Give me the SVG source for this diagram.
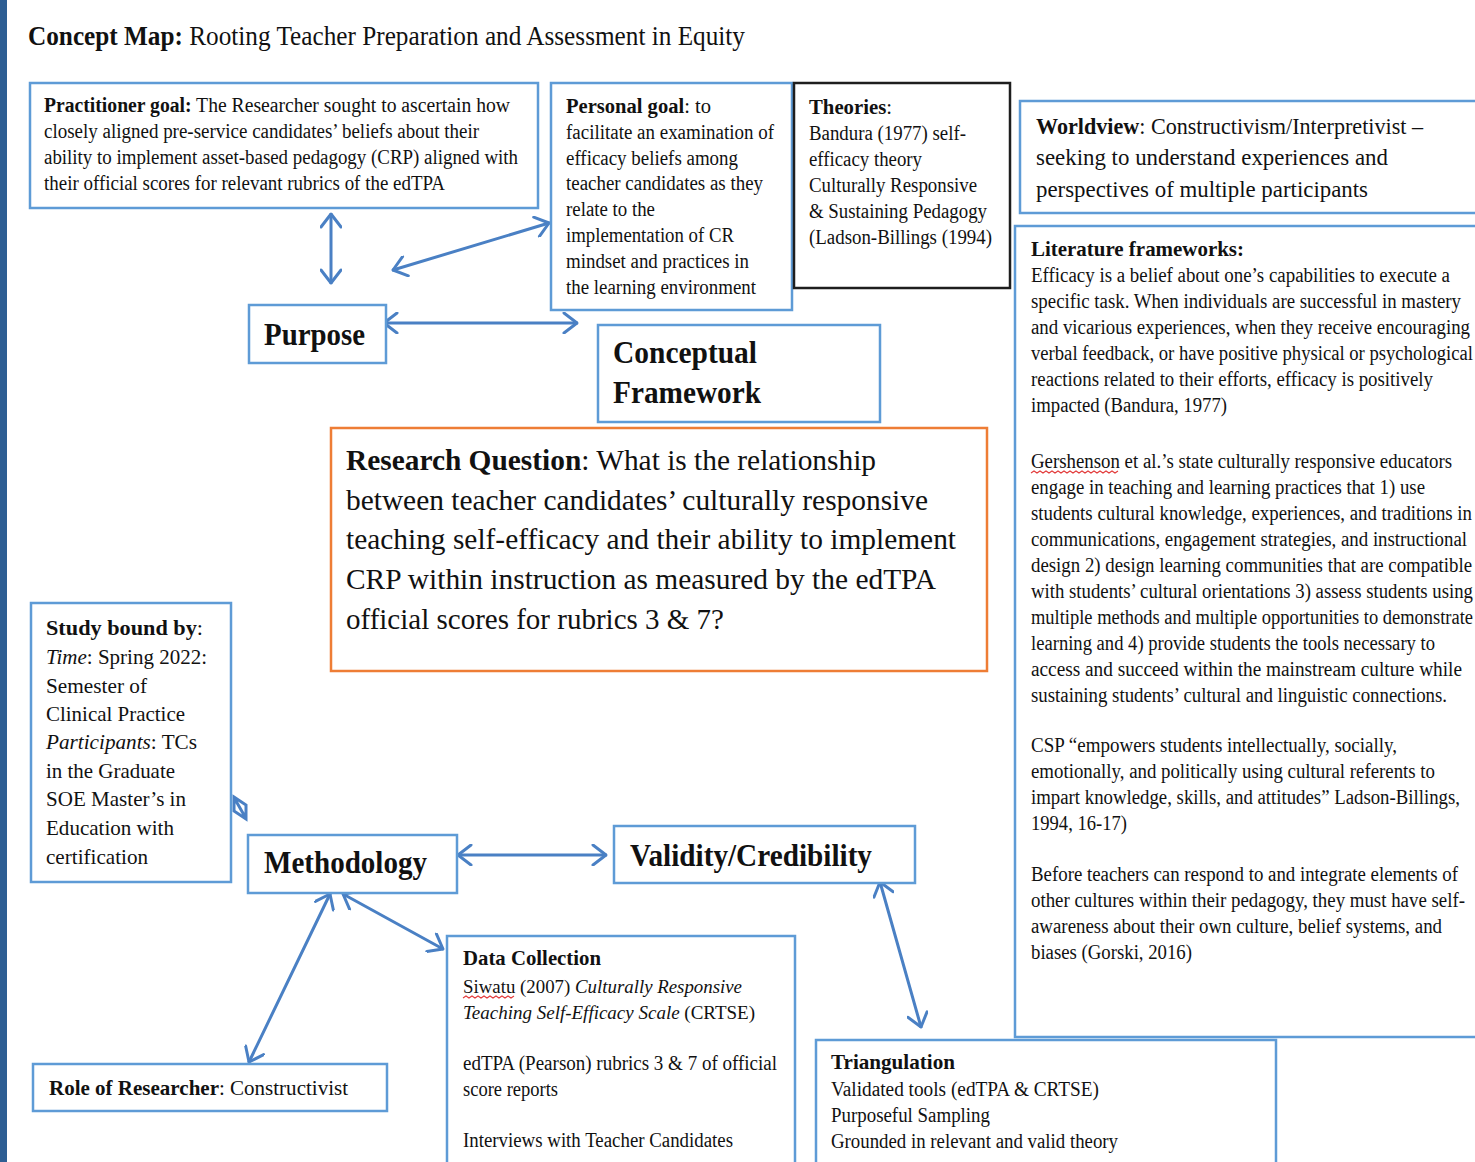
<svg xmlns="http://www.w3.org/2000/svg" width="1475" height="1162" viewBox="0 0 1475 1162">
  <style>
    text { font-family: "Liberation Serif", "Times New Roman", serif; fill: #111; }
    .b { font-weight: bold; }
    .i { font-style: italic; }
    .box { fill: #fff; stroke: #5e9bd6; stroke-width: 2.5; }
    .dark { fill: #fff; stroke: #1e1e1e; stroke-width: 2.5; }
    .orange { fill: #fff; stroke: #ee7d35; stroke-width: 2.5; }
    .conn { stroke: #4a80c4; stroke-width: 3; fill: none; stroke-linecap: round; }
    .squig { stroke: #e23a3a; stroke-width: 1.1; fill: none; }
  </style>
  <defs>
    <marker id="head" viewBox="0 0 16 22" refX="15" refY="11" markerWidth="16" markerHeight="22" markerUnits="userSpaceOnUse" orient="auto-start-reverse">
      <path d="M2,1 L15,11 L2,21" fill="none" stroke="#4a80c4" stroke-width="3" stroke-linecap="round" stroke-linejoin="round"/>
    </marker>
  </defs>

  <rect width="1475" height="1162" fill="#fff"/>
  <!-- page edge bar -->
  <rect x="0" y="0" width="7" height="1162" fill="#2e5e93"/>

  <!-- title -->
  <text x="28" y="45" font-size="27" textLength="717" lengthAdjust="spacingAndGlyphs"><tspan class="b">Concept Map:</tspan> Rooting Teacher Preparation and Assessment in Equity</text>

  <!-- connectors -->
  <g id="connectors">
    <line class="conn" x1="331" y1="214" x2="331" y2="283" marker-start="url(#head)" marker-end="url(#head)"/>
    <line class="conn" x1="393" y1="270" x2="549" y2="223" marker-start="url(#head)" marker-end="url(#head)"/>
    <line class="conn" x1="384" y1="323" x2="577" y2="323" marker-start="url(#head)" marker-end="url(#head)"/>
    <line class="conn" x1="458" y1="855" x2="606" y2="855" marker-start="url(#head)" marker-end="url(#head)"/>
    <line class="conn" x1="343" y1="894" x2="443" y2="949" marker-start="url(#head)" marker-end="url(#head)"/>
    <line class="conn" x1="330" y1="894" x2="249" y2="1062" marker-start="url(#head)" marker-end="url(#head)"/>
    <line class="conn" x1="880" y1="882" x2="921" y2="1027" marker-start="url(#head)" marker-end="url(#head)"/>
    <!-- collapsed double arrow beside the study bounds box -->
    <path class="conn" d="M234,797 L246,805 L246,819 L234,811 Z M236,801 L244,815" stroke-width="2.5"/>
  </g>

  <g id="practitioner-goal">
    <rect class="box" x="30" y="83" width="508" height="125"/>
    <text x="44" y="112" font-size="20" textLength="466" lengthAdjust="spacingAndGlyphs"><tspan class="b">Practitioner goal:</tspan> The Researcher sought to ascertain how</text>
    <text x="44" y="138" font-size="20" textLength="435" lengthAdjust="spacingAndGlyphs">closely aligned pre-service candidates’ beliefs about their</text>
    <text x="44" y="164" font-size="20" textLength="474" lengthAdjust="spacingAndGlyphs">ability to implement asset-based pedagogy (CRP) aligned with</text>
    <text x="44" y="190" font-size="20" textLength="401" lengthAdjust="spacingAndGlyphs">their official scores for relevant rubrics of the edTPA</text>
  </g>

  <g id="personal-goal">
    <rect class="box" x="551" y="83" width="241" height="227"/>
    <text x="566" y="113" font-size="20" textLength="145" lengthAdjust="spacingAndGlyphs"><tspan class="b">Personal goal</tspan>: to</text>
    <text x="566" y="139" font-size="20" textLength="208" lengthAdjust="spacingAndGlyphs">facilitate an examination of</text>
    <text x="566" y="165" font-size="20" textLength="172" lengthAdjust="spacingAndGlyphs">efficacy beliefs among</text>
    <text x="566" y="190" font-size="20" textLength="197" lengthAdjust="spacingAndGlyphs">teacher candidates as they</text>
    <text x="566" y="216" font-size="20" textLength="89" lengthAdjust="spacingAndGlyphs">relate to the</text>
    <text x="566" y="242" font-size="20" textLength="168" lengthAdjust="spacingAndGlyphs">implementation of CR</text>
    <text x="566" y="268" font-size="20" textLength="183" lengthAdjust="spacingAndGlyphs">mindset and practices in</text>
    <text x="566" y="294" font-size="20" textLength="190" lengthAdjust="spacingAndGlyphs">the learning environment</text>
  </g>

  <g id="theories">
    <rect class="dark" x="794" y="83" width="216" height="205"/>
    <text x="809" y="114" font-size="20" textLength="83" lengthAdjust="spacingAndGlyphs"><tspan class="b">Theories</tspan>:</text>
    <text x="809" y="140" font-size="20" textLength="157" lengthAdjust="spacingAndGlyphs">Bandura (1977) self-</text>
    <text x="809" y="166" font-size="20" textLength="113" lengthAdjust="spacingAndGlyphs">efficacy theory</text>
    <text x="809" y="192" font-size="20" textLength="168" lengthAdjust="spacingAndGlyphs">Culturally Responsive</text>
    <text x="809" y="218" font-size="20" textLength="178" lengthAdjust="spacingAndGlyphs">&amp; Sustaining Pedagogy</text>
    <text x="809" y="244" font-size="20" textLength="183" lengthAdjust="spacingAndGlyphs">(Ladson-Billings (1994)</text>
  </g>

  <g id="worldview">
    <rect class="box" x="1020" y="101" width="458" height="112"/>
    <text x="1036" y="134" font-size="24" textLength="387" lengthAdjust="spacingAndGlyphs"><tspan class="b">Worldview</tspan>: Constructivism/Interpretivist –</text>
    <text x="1036" y="165" font-size="24" textLength="352" lengthAdjust="spacingAndGlyphs">seeking to understand experiences and</text>
    <text x="1036" y="197" font-size="24" textLength="332" lengthAdjust="spacingAndGlyphs">perspectives of multiple participants</text>
  </g>

  <g id="literature-frameworks">
    <rect class="box" x="1015" y="226" width="463" height="811"/>
    <text x="1031" y="256" font-size="21" class="b" textLength="213" lengthAdjust="spacingAndGlyphs">Literature frameworks:</text>
    <text x="1031" y="282" font-size="20" textLength="419" lengthAdjust="spacingAndGlyphs">Efficacy is a belief about one’s capabilities to execute a</text>
    <text x="1031" y="308" font-size="20" textLength="430" lengthAdjust="spacingAndGlyphs">specific task. When individuals are successful in mastery</text>
    <text x="1031" y="334" font-size="20" textLength="439" lengthAdjust="spacingAndGlyphs">and vicarious experiences, when they receive encouraging</text>
    <text x="1031" y="360" font-size="20" textLength="442" lengthAdjust="spacingAndGlyphs">verbal feedback, or have positive physical or psychological</text>
    <text x="1031" y="386" font-size="20" textLength="402" lengthAdjust="spacingAndGlyphs">reactions related to their efforts, efficacy is positively</text>
    <text x="1031" y="412" font-size="20" textLength="196" lengthAdjust="spacingAndGlyphs">impacted (Bandura, 1977)</text>

    <text x="1031" y="468" font-size="20" textLength="421" lengthAdjust="spacingAndGlyphs">Gershenson et al.’s state culturally responsive educators</text>
    <path class="squig" d="M1031,473 l3,-2 l3,2 l3,-2 l3,2 l3,-2 l3,2 l3,-2 l3,2 l3,-2 l3,2 l3,-2 l3,2 l3,-2 l3,2 l3,-2 l3,2 l3,-2 l3,2 l3,-2 l3,2 l3,-2 l3,2 l3,-2 l3,2 l3,-2 l3,2 l3,-2 l3,2 l3,-2"/>
    <text x="1031" y="494" font-size="20" textLength="394" lengthAdjust="spacingAndGlyphs">engage in teaching and learning practices that 1) use</text>
    <text x="1031" y="520" font-size="20" textLength="441" lengthAdjust="spacingAndGlyphs">students cultural knowledge, experiences, and traditions in</text>
    <text x="1031" y="546" font-size="20" textLength="436" lengthAdjust="spacingAndGlyphs">communications, engagement strategies, and instructional</text>
    <text x="1031" y="572" font-size="20" textLength="441" lengthAdjust="spacingAndGlyphs">design 2) design learning communities that are compatible</text>
    <text x="1031" y="598" font-size="20" textLength="442" lengthAdjust="spacingAndGlyphs">with students’ cultural orientations 3) assess students using</text>
    <text x="1031" y="624" font-size="20" textLength="442" lengthAdjust="spacingAndGlyphs">multiple methods and multiple opportunities to demonstrate</text>
    <text x="1031" y="650" font-size="20" textLength="404" lengthAdjust="spacingAndGlyphs">learning and 4) provide students the tools necessary to</text>
    <text x="1031" y="676" font-size="20" textLength="431" lengthAdjust="spacingAndGlyphs">access and succeed within the mainstream culture while</text>
    <text x="1031" y="702" font-size="20" textLength="416" lengthAdjust="spacingAndGlyphs">sustaining students’ cultural and linguistic connections.</text>

    <text x="1031" y="752" font-size="20" textLength="366" lengthAdjust="spacingAndGlyphs">CSP “empowers students intellectually, socially,</text>
    <text x="1031" y="778" font-size="20" textLength="404" lengthAdjust="spacingAndGlyphs">emotionally, and politically using cultural referents to</text>
    <text x="1031" y="804" font-size="20" textLength="429" lengthAdjust="spacingAndGlyphs">impart knowledge, skills, and attitudes” Ladson-Billings,</text>
    <text x="1031" y="830" font-size="20" textLength="96" lengthAdjust="spacingAndGlyphs">1994, 16-17)</text>

    <text x="1031" y="881" font-size="20" textLength="427" lengthAdjust="spacingAndGlyphs">Before teachers can respond to and integrate elements of</text>
    <text x="1031" y="907" font-size="20" textLength="434" lengthAdjust="spacingAndGlyphs">other cultures within their pedagogy, they must have self-</text>
    <text x="1031" y="933" font-size="20" textLength="411" lengthAdjust="spacingAndGlyphs">awareness about their own culture, belief systems, and</text>
    <text x="1031" y="959" font-size="20" textLength="161" lengthAdjust="spacingAndGlyphs">biases (Gorski, 2016)</text>
  </g>

  <g id="purpose">
    <rect class="box" x="249" y="305" width="137" height="58"/>
    <text x="264" y="345" font-size="32" class="b" textLength="101" lengthAdjust="spacingAndGlyphs">Purpose</text>
  </g>

  <g id="conceptual-framework">
    <rect class="box" x="598" y="325" width="282" height="97"/>
    <text x="613" y="363" font-size="32" class="b" textLength="144" lengthAdjust="spacingAndGlyphs">Conceptual</text>
    <text x="613" y="403" font-size="32" class="b" textLength="148" lengthAdjust="spacingAndGlyphs">Framework</text>
  </g>

  <g id="research-question">
    <rect class="orange" x="331" y="428" width="656" height="243"/>
    <text x="346" y="470" font-size="30" textLength="530" lengthAdjust="spacingAndGlyphs"><tspan class="b">Research Question</tspan>: What is the relationship</text>
    <text x="346" y="510" font-size="30" textLength="582" lengthAdjust="spacingAndGlyphs">between teacher candidates’ culturally responsive</text>
    <text x="346" y="549" font-size="30" textLength="610" lengthAdjust="spacingAndGlyphs">teaching self-efficacy and their ability to implement</text>
    <text x="346" y="589" font-size="30" textLength="590" lengthAdjust="spacingAndGlyphs">CRP within instruction as measured by the edTPA</text>
    <text x="346" y="629" font-size="30" textLength="378" lengthAdjust="spacingAndGlyphs">official scores for rubrics 3 &amp; 7?</text>
  </g>

  <g id="study-bounds">
    <rect class="box" x="31" y="603" width="200" height="279"/>
    <text x="46" y="635" font-size="22" textLength="157" lengthAdjust="spacingAndGlyphs"><tspan class="b">Study bound by</tspan>:</text>
    <text x="46" y="664" font-size="22" textLength="161" lengthAdjust="spacingAndGlyphs"><tspan class="i">Time</tspan>: Spring 2022:</text>
    <text x="46" y="693" font-size="22" textLength="101" lengthAdjust="spacingAndGlyphs">Semester of</text>
    <text x="46" y="721" font-size="22" textLength="139" lengthAdjust="spacingAndGlyphs">Clinical Practice</text>
    <text x="46" y="749" font-size="22" textLength="151" lengthAdjust="spacingAndGlyphs"><tspan class="i">Participants</tspan>: TCs</text>
    <text x="46" y="778" font-size="22" textLength="129" lengthAdjust="spacingAndGlyphs">in the Graduate</text>
    <text x="46" y="806" font-size="22" textLength="140" lengthAdjust="spacingAndGlyphs">SOE Master’s in</text>
    <text x="46" y="835" font-size="22" textLength="128" lengthAdjust="spacingAndGlyphs">Education with</text>
    <text x="46" y="864" font-size="22" textLength="102" lengthAdjust="spacingAndGlyphs">certification</text>
  </g>

  <g id="methodology">
    <rect class="box" x="248" y="835" width="209" height="58"/>
    <text x="264" y="873" font-size="31" class="b" textLength="163" lengthAdjust="spacingAndGlyphs">Methodology</text>
  </g>

  <g id="validity-credibility">
    <rect class="box" x="614" y="826" width="301" height="57"/>
    <text x="630" y="866" font-size="31" class="b" textLength="242" lengthAdjust="spacingAndGlyphs">Validity/Credibility</text>
  </g>

  <g id="data-collection">
    <rect class="box" x="447" y="936" width="348" height="240"/>
    <text x="463" y="965" font-size="21" class="b" textLength="138" lengthAdjust="spacingAndGlyphs">Data Collection</text>
    <text x="463" y="993" font-size="19" textLength="279" lengthAdjust="spacingAndGlyphs">Siwatu (2007) <tspan class="i">Culturally Responsive</tspan></text>
    <path class="squig" d="M463,998 l3,-2 l3,2 l3,-2 l3,2 l3,-2 l3,2 l3,-2 l3,2 l3,-2 l3,2 l3,-2 l3,2 l3,-2 l3,2 l3,-2 l3,2 l3,-2"/>
    <text x="463" y="1019" font-size="19" textLength="292" lengthAdjust="spacingAndGlyphs"><tspan class="i">Teaching Self-Efficacy Scale</tspan> (CRTSE)</text>
    <text x="463" y="1070" font-size="20" textLength="314" lengthAdjust="spacingAndGlyphs">edTPA (Pearson) rubrics 3 &amp; 7 of official</text>
    <text x="463" y="1096" font-size="20" textLength="95" lengthAdjust="spacingAndGlyphs">score reports</text>
    <text x="463" y="1147" font-size="20" textLength="270" lengthAdjust="spacingAndGlyphs">Interviews with Teacher Candidates</text>
  </g>

  <g id="triangulation">
    <rect class="box" x="816" y="1040" width="460" height="140"/>
    <text x="831" y="1069" font-size="21" class="b" textLength="124" lengthAdjust="spacingAndGlyphs">Triangulation</text>
    <text x="831" y="1096" font-size="20" textLength="268" lengthAdjust="spacingAndGlyphs">Validated tools (edTPA &amp; CRTSE)</text>
    <text x="831" y="1122" font-size="20" textLength="159" lengthAdjust="spacingAndGlyphs">Purposeful Sampling</text>
    <text x="831" y="1148" font-size="20" textLength="287" lengthAdjust="spacingAndGlyphs">Grounded in relevant and valid theory</text>
  </g>

  <g id="role-of-researcher">
    <rect class="box" x="33" y="1064" width="354" height="47"/>
    <text x="49" y="1095" font-size="22" textLength="299" lengthAdjust="spacingAndGlyphs"><tspan class="b">Role of Researcher</tspan>: Constructivist</text>
  </g>
</svg>
